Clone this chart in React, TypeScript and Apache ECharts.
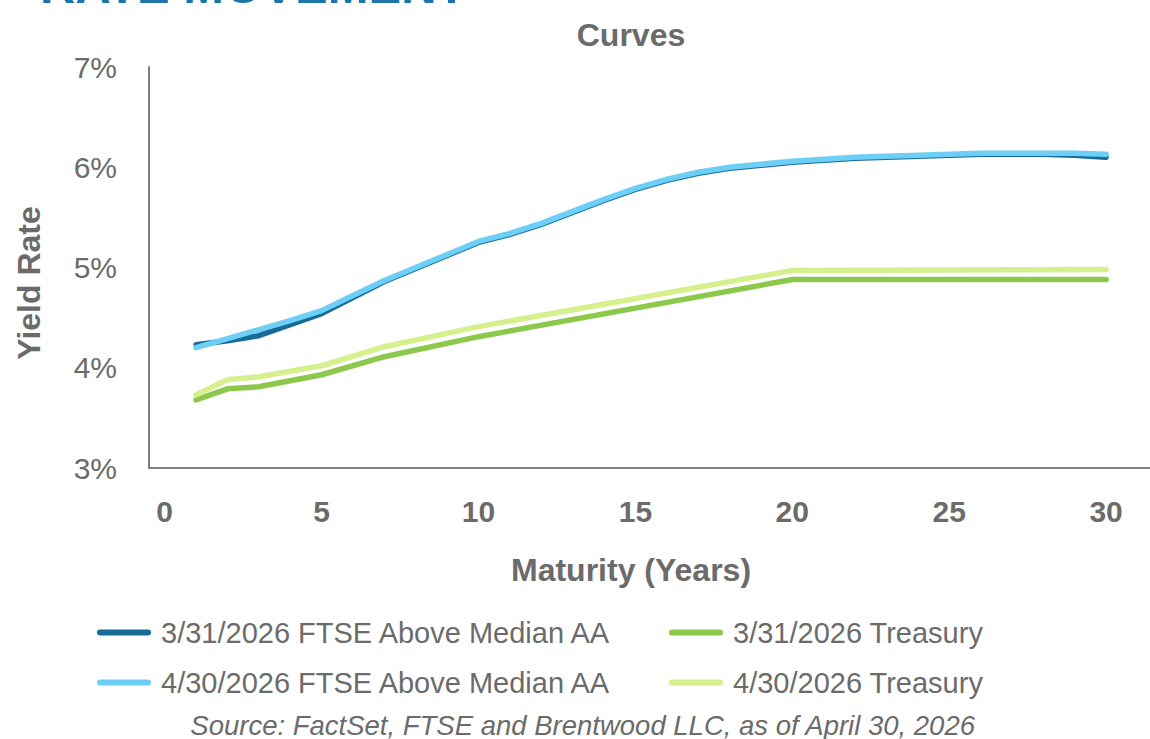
import React, { useEffect, useRef } from "react";
import * as echarts from "echarts";

const ftseYears = [1, 2, 3, 4, 5, 6, 7, 8, 9, 10, 11, 12, 13, 14, 15, 16, 17, 18, 19, 20, 21, 22, 23, 24, 25, 26, 27, 28, 29, 30];
const ftseMar = [4.23, 4.27, 4.32, 4.43, 4.54, 4.70, 4.86, 4.99, 5.12, 5.25, 5.33, 5.43, 5.55, 5.67, 5.78, 5.87, 5.94, 5.99, 6.02, 6.05, 6.07, 6.09, 6.10, 6.11, 6.12, 6.13, 6.13, 6.13, 6.12, 6.10];
const ftseApr = [4.20, 4.29, 4.38, 4.47, 4.57, 4.72, 4.87, 5.00, 5.13, 5.26, 5.34, 5.44, 5.56, 5.68, 5.79, 5.88, 5.95, 6.00, 6.03, 6.06, 6.08, 6.10, 6.11, 6.12, 6.13, 6.14, 6.14, 6.14, 6.14, 6.13];
const tsyYears = [1, 2, 3, 5, 7, 10, 20, 30];
const tsyMar = [3.68, 3.79, 3.81, 3.93, 4.11, 4.31, 4.88, 4.88];
const tsyApr = [3.73, 3.88, 3.91, 4.02, 4.21, 4.41, 4.97, 4.98];
const xTicks = [0, 5, 10, 15, 20, 25, 30];

const names = [
  "3/31/2026 FTSE Above Median AA",
  "3/31/2026 Treasury",
  "4/30/2026 FTSE Above Median AA",
  "4/30/2026 Treasury",
];
const colors = ["#176b97", "#8cc84b", "#6dcff6", "#d6f08e"];

const FONT = "'Liberation Sans', Arial, sans-serif";
const GRAY = "#6b6b6b";

function pairs(xs: number[], ys: number[]) {
  return xs.map((x, i) => [x, ys[i]]);
}

export default function App() {
  const ref = useRef<HTMLDivElement>(null);
  useEffect(() => {
    if (!ref.current) return;
    const chart = echarts.init(ref.current, undefined, { renderer: "svg" });
    const icon = "path://M3,0H51A3,3,0,0,1,51,6H3A3,3,0,0,1,3,0Z";
    const legendCommon = {
      orient: "vertical",
      top: 618,
      itemGap: 21,
      itemWidth: 54,
      itemHeight: 6,
      padding: 0,
      icon,
      selectedMode: false,
      textStyle: { fontSize: 29, color: GRAY, fontFamily: FONT, padding: [0, 0, 0, 5] },
    };
    const series = [
      { name: names[0], data: pairs(ftseYears, ftseMar), color: colors[0] },
      { name: names[2], data: pairs(ftseYears, ftseApr), color: colors[2] },
      { name: names[1], data: pairs(tsyYears, tsyMar), color: colors[1] },
      { name: names[3], data: pairs(tsyYears, tsyApr), color: colors[3] },
    ].map((s) => ({
      type: "line",
      name: s.name,
      data: s.data,
      color: s.color,
      showSymbol: false,
      symbol: "none",
      lineStyle: { width: 5.5, color: s.color, cap: "round", join: "round" },
    }));
    chart.setOption({
      animation: false,
      textStyle: { fontFamily: FONT },
      grid: { left: 149, top: 67, width: 1001, height: 401, containLabel: false },
      xAxis: {
        type: "value",
        min: -0.5,
        max: 31.4,
        axisLine: { show: true, onZero: false, lineStyle: { color: "#808080", width: 2 } },
        axisTick: { show: false },
        splitLine: { show: false },
        axisLabel: {
          customValues: xTicks,
          fontSize: 30,
          fontWeight: "bold",
          color: GRAY,
          margin: 28,
          fontFamily: FONT,
        },
      },
      yAxis: {
        type: "value",
        min: 3,
        max: 7,
        interval: 1,
        axisLine: { show: true, onZero: false, lineStyle: { color: "#808080", width: 2 } },
        axisTick: { show: false },
        splitLine: { show: false },
        axisLabel: {
          formatter: "{value}%",
          fontSize: 30,
          color: GRAY,
          margin: 32,
          fontFamily: FONT,
        },
      },
      legend: [
        { ...legendCommon, left: 97, data: [names[0], names[2]] },
        { ...legendCommon, left: 669, data: [names[1], names[3]] },
      ],
      graphic: [
        {
          type: "text",
          x: 40,
          y: -14,
          style: {
            text: "RATE MOVEMENT",
            fill: "#1c74a8",
            font: `bold 49px ${FONT}`,
            align: "left",
            verticalAlign: "middle",
          },
        },
        {
          type: "text",
          x: 631,
          y: 35,
          style: {
            text: "Curves",
            fill: GRAY,
            font: `bold 32px ${FONT}`,
            align: "center",
            verticalAlign: "middle",
          },
        },
        {
          type: "text",
          x: 29,
          y: 283,
          rotation: Math.PI / 2,
          style: {
            text: "Yield Rate",
            fill: GRAY,
            font: `bold 32px ${FONT}`,
            align: "center",
            verticalAlign: "middle",
          },
        },
        {
          type: "text",
          x: 631,
          y: 570,
          style: {
            text: "Maturity (Years)",
            fill: GRAY,
            font: `bold 32px ${FONT}`,
            align: "center",
            verticalAlign: "middle",
          },
        },
        {
          type: "text",
          x: 975,
          y: 725,
          style: {
            text: "Source: FactSet, FTSE and Brentwood LLC, as of April 30, 2026",
            fill: GRAY,
            font: `italic 27.5px ${FONT}`,
            align: "right",
            verticalAlign: "middle",
          },
        },
      ],
      series,
    });
    return () => chart.dispose();
  }, []);
  return (
    <div
      ref={ref}
      style={{ position: "fixed", left: 0, top: 0, width: 1150, height: 739, background: "#fff" }}
    />
  );
}
